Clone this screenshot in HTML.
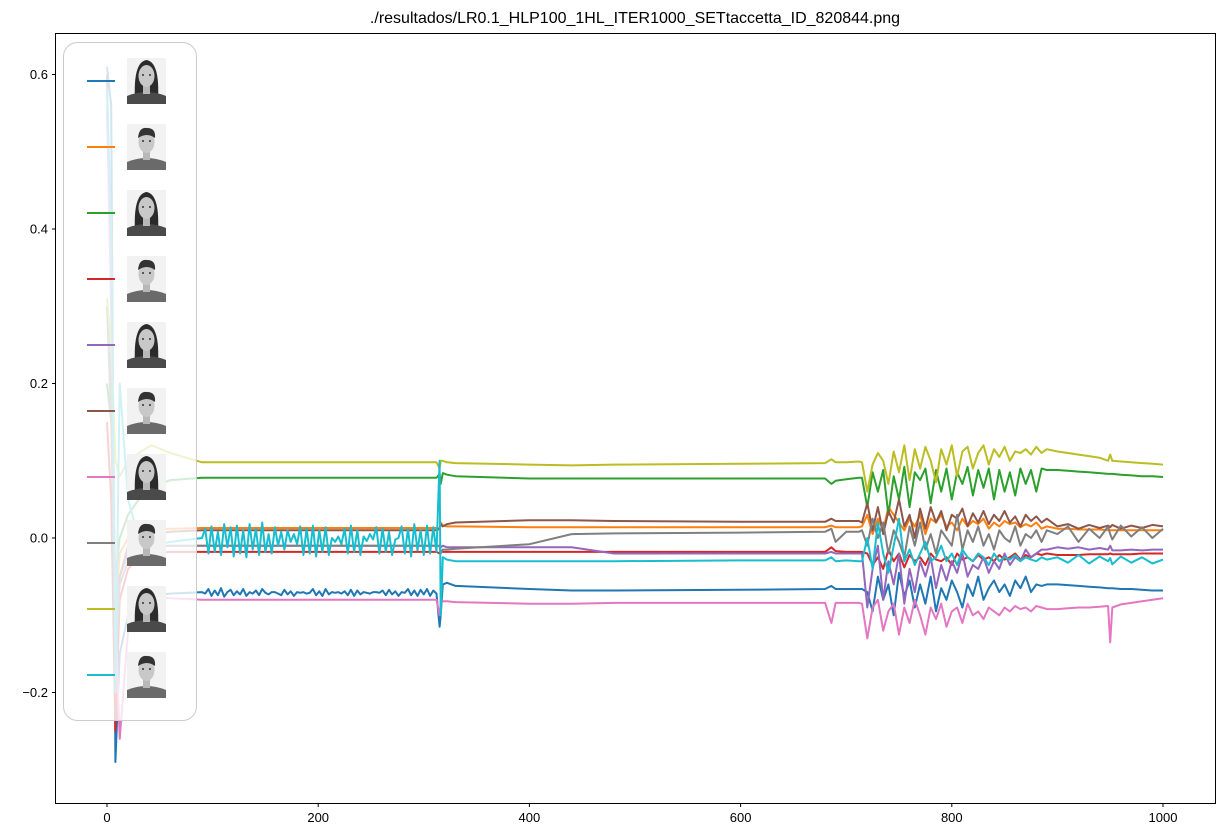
<!DOCTYPE html>
<html><head><meta charset="utf-8"><style>
html,body{margin:0;padding:0;background:#fff;}
svg{display:block;font-family:"Liberation Sans","DejaVu Sans",sans-serif;}
</style></head><body>
<svg id="chart" width="1225" height="836" xmlns="http://www.w3.org/2000/svg">
<text x="635" y="23" text-anchor="middle" font-size="16" fill="#000">./resultados/LR0.1_HLP100_1HL_ITER1000_SETtaccetta_ID_820844.png</text>
<g id="series"></g>
<g id="legend"></g>
<rect x="55.5" y="33.5" width="1160" height="770" fill="none" stroke="#000" stroke-width="1"/>
<g id="axes"></g>
</svg>
<script>
const xTicks=[0,200,400,600,800,1000];
const yTicks=[0.6,0.4,0.2,0.0,-0.2];
const yTickLabels=["0.6","0.4","0.2","0.0","\u22120.2"];
const colors=["#1f77b4","#ff7f0e","#2ca02c","#d62728","#9467bd","#8c564b","#e377c2","#7f7f7f","#bcbd22","#17becf"];
const seriesNames=["blue","orange","green","red","purple","brown","pink","grey","olive","cyan"];
// values in thousandths
const earlyIters=[0,4,8,12,20,30,42,60,90];
const earlyVals=[
[610,560,-290,-150,-100,-80,-75,-72,-70],
[560,400,-100,-20,0,5,10,12,13],
[200,150,-50,0,30,50,65,75,78],
[150,50,-250,-80,-40,-25,-20,-18,-18],
[300,200,-100,-50,-20,-15,-12,-10,-10],
[600,300,-200,-50,-10,0,5,8,10],
[550,300,-100,-260,-120,-70,-75,-78,-80],
[300,150,-150,-60,-30,-15,-10,-10,-10],
[310,250,100,80,100,110,120,110,98],
[580,400,-200,200,50,0,-10,-5,0]];
const noiseEarlyIters=[93,96,99,102,105,108,111,114,117,120,123,126,129,132,135,138,141,144,147,150,153,156,159,162,165,168,171,174,177,180,183,186,189,192,195,198,201,204,207,210,213,216,219,222,225,228,231,234,237,240,243,246,249,252,255,258,261,264,267,270,273,276,279,282,285,288,291,294,297,300,303,306,309,312];
const cyanEarly=[12,-20,15,-18,8,-22,18,-12,14,-24,16,-20,10,-25,18,-15,12,-22,20,-18,5,-20,14,-10,8,-15,10,-5,5,-8,15,-22,12,-20,16,-24,10,-18,14,-22,0,-5,2,-8,12,-20,16,-18,10,-22,2,-4,5,-2,14,-20,12,-18,8,-22,-2,0,15,-20,12,-24,18,-16,10,-22,16,-20,14,-18];
const blueEarly=[-72,-66,-75,-68,-74,-65,-76,-70,-67,-74,-69,-73,-66,-75,-70,-72,-68,-74,-66,-71,-73,-70,-70,-72,-74,-67,-73,-69,-75,-70,-71,-70,-72,-71,-66,-74,-69,-75,-66,-73,-70,-71,-70,-72,-69,-74,-67,-75,-68,-73,-70,-71,-72,-70,-70,-71,-68,-74,-67,-73,-69,-75,-70,-71,-66,-74,-68,-75,-67,-73,-66,-75,-68,-72];
const midIters=[315,316,318,322,330,400,440,480,600,680,686,690,700,712];
const midVals=[
[-115,-100,-60,-58,-62,-66,-68,-68,-67,-66,-62,-66,-66,-66],
[12,20,16,15,15,14,14,14,14,14,16,14,14,14],
[83,70,84,82,80,77,77,77,77,77,70,74,76,78],
[-20,-16,-18,-18,-18,-18,-18,-18,-18,-18,-12,-17,-18,-18],
[-10,-12,-10,-12,-12,-12,-12,-20,-20,-20,-18,-20,-20,-20],
[12,18,15,18,20,23,23,22,21,21,25,22,22,22],
[-100,-85,-82,-82,-83,-85,-85,-84,-84,-84,-110,-84,-84,-84],
[-10,-20,-15,-15,-14,-8,5,6,7,8,12,-5,8,8],
[90,100,100,98,97,95,94,95,96,97,102,98,98,99],
[100,-100,-25,-28,-30,-30,-30,-30,-29,-29,-25,-30,-29,-30]];
const noiseIters=[715,720,725,730,735,740,745,750,755,760,765,770,775,780,785,790,795,800,805,810,815,820,825,830,835,840,845,850,855,860,865,870,875,880,885,890];
const noiseVals=[
[-66,-70,-95,-50,-80,-60,-100,-45,-75,-55,-90,-60,-85,-50,-95,-65,-80,-55,-70,-90,-60,-75,-50,-80,-65,-55,-70,-60,-75,-55,-65,-50,-70,-60,-62,-60],
[15,30,5,25,10,40,30,20,10,25,15,30,5,25,20,30,15,20,10,25,15,22,18,25,12,20,15,22,18,20,14,18,15,20,12,15],
[78,40,85,60,88,30,80,50,92,40,85,75,90,45,88,60,90,50,85,70,92,55,88,65,90,50,88,60,85,55,90,70,88,60,90,88],
[-18,-20,-35,-25,-40,-15,-30,-20,-38,-22,-30,-25,-35,-20,-28,-30,-25,-35,-20,-28,-25,-30,-22,-28,-25,-30,-22,-28,-25,-20,-28,-22,-25,-20,-22,-20],
[-20,-90,-40,-10,-80,-30,-60,-20,-85,-40,-70,-30,-50,-25,-65,-35,-55,-30,-45,-20,-50,-35,-40,-25,-45,-30,-40,-20,-35,-25,-30,-15,-25,-20,-15,-15],
[20,45,10,40,5,35,20,50,15,30,0,38,12,40,20,35,10,30,25,38,15,32,20,35,18,30,22,35,20,28,15,30,22,28,20,25],
[-85,-130,-90,-80,-120,-95,-85,-125,-90,-110,-80,-100,-125,-90,-105,-85,-115,-95,-90,-110,-85,-100,-95,-105,-90,-95,-100,-90,-95,-88,-92,-90,-95,-88,-90,-92],
[10,-10,25,0,20,-20,10,-5,-25,15,-10,20,-15,5,-20,10,0,-10,30,-15,10,-5,15,-10,5,-15,10,0,-5,15,-10,5,0,10,-5,10],
[98,60,95,110,100,70,112,85,120,75,115,90,118,100,72,115,95,120,80,112,118,90,110,120,95,115,105,118,100,112,110,115,108,118,110,115],
[-30,0,-40,20,-20,-45,-10,25,-30,-15,-35,-20,-5,-30,-25,-10,-30,-20,-35,-15,-25,-30,-20,-25,-35,-20,-30,-25,-28,-22,-30,-25,-28,-30,-25,-28]];
const lateIters=[900,910,920,930,940,948,950,952,960,970,980,990,1000];
const lateVals=[
[-60,-61,-62,-63,-64,-65,-65,-65,-66,-66,-67,-68,-68],
[12,12,11,11,11,10,10,10,10,10,10,10,10],
[88,87,86,85,84,83,83,83,82,81,80,80,79],
[-22,-22,-22,-21,-21,-21,-20,-21,-21,-21,-20,-20,-20],
[-12,-14,-12,-15,-13,-15,-10,-16,-16,-15,-16,-15,-15],
[15,18,12,17,13,16,14,17,12,16,13,17,15],
[-92,-91,-90,-90,-89,-88,-135,-90,-86,-84,-82,-80,-78],
[5,15,-5,12,0,15,5,-2,16,2,14,0,12],
[112,110,108,106,104,100,108,100,99,98,97,96,95],
[-25,-32,-22,-33,-24,-30,-26,-34,-24,-32,-25,-33,-28]];

const X0=55,X1=1215,Y0=33,Y1=803;
function xs(v){return 107+(v)*(1163-107)/1000;}
function ys(v){return 538-(v)*(538-383.5)/0.2;}
const NS="http://www.w3.org/2000/svg";
function el(t,a){const e=document.createElementNS(NS,t);for(const k in a)e.setAttribute(k,a[k]);return e;}

const sg=document.getElementById('series');
for(let s=0;s<10;s++){
  const pts=[];
  earlyIters.forEach((x,i)=>pts.push([x,earlyVals[s][i]]));
  if(s===9){noiseEarlyIters.forEach((x,i)=>{if(i<cyanEarly.length)pts.push([x,cyanEarly[i]]);});}
  else if(s===0){noiseEarlyIters.forEach((x,i)=>{if(i<blueEarly.length)pts.push([x,blueEarly[i]]);});}
  else{pts.push([312,earlyVals[s][earlyVals[s].length-1]]);}
  midIters.forEach((x,i)=>pts.push([x,midVals[s][i]]));
  noiseIters.forEach((x,i)=>{if(i<noiseVals[s].length)pts.push([x,noiseVals[s][i]]);});
  lateIters.forEach((x,i)=>pts.push([x,lateVals[s][i]]));
  const d=pts.map((p,i)=>(i?'L':'M')+xs(p[0]).toFixed(1)+' '+ys(p[1]/1000).toFixed(1)).join(' ');
  const p=el('path',{d:d,fill:'none',stroke:colors[s],'stroke-width':2,'stroke-linejoin':'round'});
  
  
  sg.appendChild(p);
}

const ax=document.getElementById('axes');
xTicks.forEach(v=>{
  const x=xs(v);
  const t=el('line',{x1:x,x2:x,y1:803.5,y2:807,stroke:'#000'});
  
  
  ax.appendChild(t);
  const l=el('text',{x:x,y:822,'text-anchor':'middle','font-size':13,fill:'#000'});
  l.textContent=String(v);
  
  
  ax.appendChild(l);
});
yTicks.forEach((v,i)=>{
  const y=ys(v);
  const t=el('line',{x1:52,x2:55.5,y1:y,y2:y,stroke:'#000'});
  
  
  ax.appendChild(t);
  const l=el('text',{x:48,y:y+4.5,'text-anchor':'end','font-size':13,fill:'#000'});
  l.textContent=yTickLabels[i];
  
  
  ax.appendChild(l);
});

const lg=document.getElementById('legend');
const box=el('rect',{x:63.5,y:42.5,width:133,height:678,rx:14,fill:'#fff','fill-opacity':0.8,stroke:'#ccc'});


lg.appendChild(box);
for(let i=0;i<10;i++){
  const cy=81+i*66;
  const ln=el('line',{x1:87,x2:115,y1:cy,y2:cy,stroke:colors[i],'stroke-width':2});
  
  
  lg.appendChild(ln);
  const f=el('g',{});
  
  
  const fx=127,fy=cy-23;
  const female=(i%2===0);
  f.appendChild(el('rect',{x:fx,y:fy,width:39,height:46,fill:'#f2f2f2'}));
  if(female) f.appendChild(el('path',{d:`M${fx+8} ${fy+42} Q${fx+6} ${fy+4} ${fx+19.5} ${fy+2} Q${fx+33} ${fy+4} ${fx+31} ${fy+42} Z`,fill:'#2b2b2b'}));
  f.appendChild(el('path',{d:`M${fx} ${fy+46} L${fx} ${fy+38} Q${fx+19.5} ${fy+30} ${fx+39} ${fy+38} L${fx+39} ${fy+46} Z`,fill:female?'#4a4a4a':'#6a6a6a'}));
  f.appendChild(el('rect',{x:fx+16,y:fy+26,width:7,height:10,fill:'#b8b8b8'}));
  f.appendChild(el('ellipse',{cx:fx+19.5,cy:fy+18,rx:8,ry:11,fill:'#c8c8c8'}));
  if(!female) f.appendChild(el('path',{d:`M${fx+11} ${fy+14} Q${fx+12} ${fy+3} ${fx+20} ${fy+4} Q${fx+29} ${fy+4} ${fx+28} ${fy+14} Q${fx+20} ${fy+8} ${fx+11} ${fy+14} Z`,fill:'#333'}));
  f.appendChild(el('circle',{cx:fx+16,cy:fy+17,r:1,fill:'#333'}));
  f.appendChild(el('circle',{cx:fx+23,cy:fy+17,r:1,fill:'#333'}));
  lg.appendChild(f);
}
</script>
</body></html>
